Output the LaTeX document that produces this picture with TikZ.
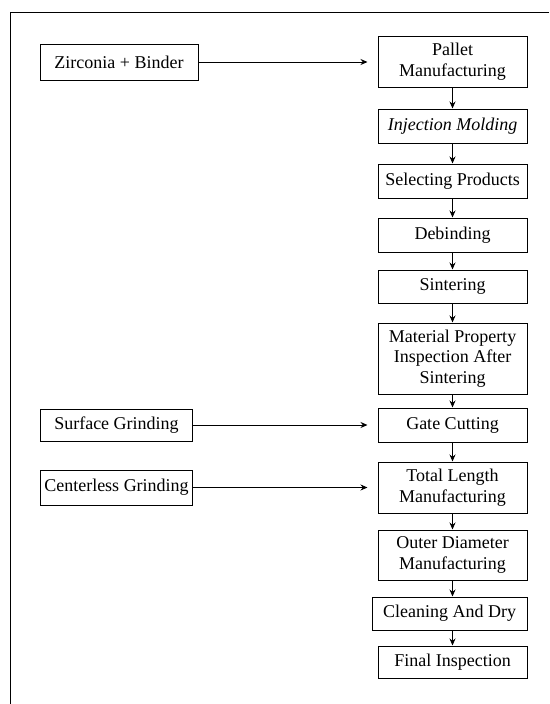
\documentclass[tikz,border=0pt]{standalone}
\usepackage{fontspec}
\setmainfont{Liberation Serif}
\usepackage{tikz}
\usetikzlibrary{arrows.meta,positioning,calc}
\tikzset{
	stepbox/.style={rectangle,draw,line width=1pt,minimum width=149pt,minimum height=34pt,align=center,inner sep=1pt,font=\fontsize{18}{20.5}\selectfont},
	sidebox/.style={stepbox,minimum width=152pt},
	diredge/.style={->,>={Stealth[width=6pt,length=7pt]},color=black,line width=1pt},
	sideedge/.style={diredge,shorten >=10pt}
}
\begin{document}
\begin{tikzpicture}[x=1pt,y=1pt]
\useasboundingbox (0,0) rectangle (549,-704);
\draw[line width=1pt] (549,-12) -- (10,-12) -- (10,-704);

    \node[stepbox,minimum height=51pt] (S1) at (452.5,-61.5) {Pallet\\Manufacturing};
    \node[stepbox,font=\fontsize{18}{20.5}\selectfont\itshape] (S2) at (452.5,-126) {Injection Molding};
    \node[stepbox] (S3) at (452.5,-181) {Selecting Products};
    \node[stepbox] (S4) at (452.5,-235) {Debinding};
    \node[stepbox,minimum height=33pt] (S5) at (452.5,-286.5) {Sintering};
    \node[stepbox,minimum height=71pt] (S6) at (452.5,-358.5) {Material Property\\Inspection After\\Sintering};
    \node[stepbox] (S7) at (452.5,-425) {Gate Cutting};
    \node[stepbox,minimum height=51pt] (S8) at (452.5,-487.5) {Total Length\\Manufacturing};
    \node[stepbox,minimum height=50pt] (S9) at (452.5,-555) {Outer Diameter\\Manufacturing};
    \node[stepbox,minimum width=155pt,minimum height=33pt] (S10) at (449.5,-613.5) {Cleaning And Dry};
    \node[stepbox,minimum height=32pt] (S11) at (452.5,-662) {Final Inspection};

    \node[sidebox,minimum width=158pt,minimum height=36pt] (L1) at (119,-62) {Zirconia + Binder};
    \node[sidebox,minimum height=32pt] (L2) at (116.5,-425) {Surface Grinding};
    \node[sidebox,minimum height=35pt] (L3) at (116.5,-487.5) {Centerless Grinding};

    \foreach \a/\b in {S1/S2,S2/S3,S3/S4,S4/S5,S5/S6,S6/S7,S7/S8,S8/S9,S9/S10,S10/S11}
        \draw[diredge] (\a.south -| S11) -- (\b.north -| S11);

    \draw[sideedge] (L1.east) -- (L1.east -| S1.west);
    \draw[sideedge] (L2.east) -- (L2.east -| S7.west);
    \draw[sideedge] (L3.east) -- (L3.east -| S8.west);
\end{tikzpicture}
\end{document}
